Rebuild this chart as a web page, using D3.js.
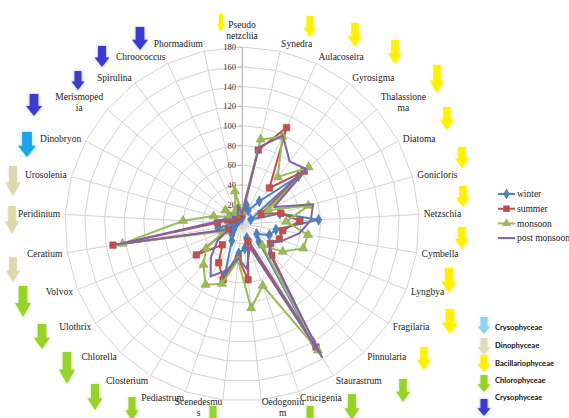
<!DOCTYPE html>
<html>
<head>
<meta charset="utf-8">
<script src="https://cdn.jsdelivr.net/npm/d3@7"></script>
<style>
  html, body { margin: 0; padding: 0; background: #ffffff; }
  svg { display: block; }
</style>
</head>
<body>
<svg id="chart" width="569" height="418"></svg>
<script>
// Phytoplankton genera (spokes), clockwise from the top; "\n" marks a wrapped label
const categories = ["Pseudo\nnetzchia", "Synedra", "Aulacoseira", "Gyrosigma", "Thalassione\nma",
  "Diatoma", "Gonicloris", "Netzschia", "Cymbella", "Lyngbya", "Fragilaria", "Pinnularia",
  "Staurastrum", "Crucigenia", "Oedogoniu\nm", "Scenedesmu\ns", "Pediastrum", "Closterium",
  "Chlorella", "Ulothrix", "Volvox", "Ceratium", "Peridinium", "Urosolenia", "Dinobryon",
  "Merismoped\nia", "Spirulina", "Chroococcus", "Phormadium"];

// Seasonal counts per genus
const winter  = [6, 20, 15, 29, 75, 10, 40, 78, 35, 30, 18, 25, 140, 15, 25, 30, 55, 20, 15, 10, 8, 25, 10, 8, 5, 8, 5, 6, 8];
const summer  = [10, 77, 108, 46, 83, 22, 41, 59, 42, 41, 35, 44, 146, 19, 57, 35, 60, 46, 29, 56, 15, 133, 25, 15, 10, 12, 9, 8, 11];
const monsoon = [12, 88, 98, 60, 89, 30, 70, 45, 68, 67, 50, 30, 150, 66, 86, 37, 64, 72, 57, 44, 20, 123, 60, 30, 15, 22, 12, 15, 34];
const postMonsoon = [10, 80, 99, 80, 86, 37, 75, 70, 59, 45, 35, 40, 158, 25, 46, 35, 50, 62, 46, 30, 15, 128, 30, 18, 10, 12, 8, 10, 20];

const seriesNames = ["winter", "summer", "monsoon", "post monsoon"];
const axisTicks = [0, 20, 40, 60, 80, 100, 120, 140, 160, 180];

// Algal classes (legend order) and the class of each genus
const classNames = ["Crysophyceae", "Dinophyceae", "Bacillariophyceae", "Chlorophyceae", "Crysophyceae"];
const classOf = [2, 2, 2, 2, 2, 2, 2, 2, 2, 2, 2, 2, 3, 3, 3, 3, 3, 3, 3, 3, 3, 1, 1, 1, 0, 4, 4, 4, 4];

// ---- styling and layout ----
const seriesColors = ["#4F81BD", "#C0504D", "#9BBB59", "#8064A2"];
const seriesMarkers = ["diamond", "square", "triangle", null];
const classColors = ["#1AA3E8", "#DDD8AE", "#FFF200", "#97D22C", "#3B3BCF"];
const legendClassColors = ["#8FD3EC", "#E0DBB8", "#FFF200", "#97D22C", "#3B3BCF"];
// hand-placed class arrows beside each label: [centre x, top y, width, height]
const arrowLayout = [
  [221, 14, 8, 18], [310, 16, 13, 21], [355, 23, 14, 24], [395, 40, 14, 24], [437, 65, 14, 28],
  [447, 107, 14, 23], [462, 147, 14, 21], [463, 186, 14, 21], [462, 227, 14, 22], [449, 268, 15, 25],
  [450, 309, 16, 25], [424, 347, 14, 23], [403, 379, 14, 23], [352, 394, 15, 26], [310, 406, 13, 22],
  [213, 406, 13, 22], [132, 397, 13, 24], [95, 384, 15, 26], [67, 352, 16, 32], [42, 324, 16, 25],
  [23, 286, 16, 31], [13, 257, 14, 25], [12, 206, 14, 28], [13, 166, 15, 30], [27, 132, 18, 25],
  [34, 94, 16, 22], [78, 71, 13, 19], [102, 46, 15, 21], [140, 27, 16, 23]
];

const svg = d3.select("#chart");
const W = 569, H = 418;
svg.append("rect").attr("width", W).attr("height", H).attr("fill", "#ffffff");

const cx = 242, cy = 224, R = 177;
const n = categories.length;
const angle = d3.scaleLinear().domain([0, n]).range([0, 2 * Math.PI]);
const radius = d3.scaleLinear().domain([0, 180]).range([0, R]);
const serif = "'Liberation Serif', 'DejaVu Serif', serif";

const plot = svg.append("g").attr("transform", `translate(${cx},${cy})`);

// ring gridlines (polygons) and spokes
const ring = d3.lineRadial()
  .angle((d, i) => angle(i))
  .curve(d3.curveLinearClosed);
plot.append("g").selectAll("path")
  .data(axisTicks.filter(t => t > 0))
  .join("path")
  .attr("d", t => ring.radius(() => radius(t))(categories))
  .attr("fill", "none")
  .attr("stroke", "#d4d4d4")
  .attr("stroke-width", 1);

plot.append("g").selectAll("line")
  .data(categories)
  .join("line")
  .attr("x1", 0).attr("y1", 0)
  .attr("x2", (d, i) => radius(180) * Math.sin(angle(i)))
  .attr("y2", (d, i) => -radius(180) * Math.cos(angle(i)))
  .attr("stroke", "#d4d4d4")
  .attr("stroke-width", 1);

// value axis along the top spoke
const yAxisScale = d3.scaleLinear().domain([0, 180]).range([0, -R]);
const axisG = plot.append("g")
  .call(d3.axisLeft(yAxisScale).tickValues(axisTicks).tickSize(4).tickPadding(2));
axisG.select(".domain").attr("stroke", "#bdbdbd");
axisG.selectAll(".tick line").attr("stroke", "#bdbdbd");
axisG.selectAll(".tick text")
  .attr("font-family", serif).attr("font-size", 8.5).attr("fill", "#333");

// seasonal series
const seriesData = [winter, summer, monsoon, postMonsoon];
const line = d3.lineRadial()
  .angle((d, i) => angle(i))
  .radius(d => radius(d))
  .curve(d3.curveLinearClosed);

const symbolFor = {
  diamond: d3.symbol().type(d3.symbolDiamond).size(34),
  square: d3.symbol().type(d3.symbolSquare).size(42),
  triangle: d3.symbol().type(d3.symbolTriangle).size(36)
};

seriesData.forEach((vals, s) => {
  const g = plot.append("g");
  g.append("path")
    .attr("d", line(vals))
    .attr("fill", "none")
    .attr("stroke", seriesColors[s])
    .attr("stroke-width", 2)
    .attr("stroke-linejoin", "round");
  if (seriesMarkers[s]) {
    g.selectAll("path.m")
      .data(vals)
      .join("path")
      .attr("class", "m")
      .attr("d", symbolFor[seriesMarkers[s]]())
      .attr("transform", (d, i) => `translate(${radius(d) * Math.sin(angle(i))},${-radius(d) * Math.cos(angle(i))})`)
      .attr("fill", seriesColors[s])
      .attr("stroke", d3.color(seriesColors[s]).darker(0.3))
      .attr("stroke-width", 0.6);
  }
});

// category labels around the outside
const labelR = R + 5;
const lineH = 11;
const labelG = svg.append("g")
  .attr("font-family", serif).attr("font-size", 9.5).attr("fill", "#222");
categories.forEach((c, i) => {
  const a = angle(i), s = Math.sin(a), co = Math.cos(a);
  const lines = c.split("\n");
  const h = lines.length * lineH;
  const px = cx + labelR * s, py = cy - labelR * co;
  const t = labelG.append("text").attr("text-anchor", "middle");
  lines.forEach(ln => t.append("tspan").text(ln));
  let w = 0;
  t.selectAll("tspan").each(function () { w = Math.max(w, this.getComputedTextLength()); });
  let left;
  if (Math.abs(s) < 0.08) left = px - w / 2;
  else if (s > 0) left = px;
  else left = px - w;
  // upper labels sit above their spoke end, lower ones hug the outer ring
  const boxCy = co > 0
    ? py - Math.pow(co, 3) * (h / 2 - 2.5 + (lines.length - 1) * 3.5)
    : py - co * h * 0.1;
  const firstBase = boxCy - h / 2 + lineH * 0.78;
  t.selectAll("tspan")
    .attr("x", left + w / 2)
    .attr("y", (d, k) => firstBase + k * lineH);
});

// class arrows
const defs = svg.append("defs");
const glow = defs.append("filter").attr("id", "soft").attr("x", "-50%").attr("y", "-50%").attr("width", "200%").attr("height", "200%");
glow.append("feGaussianBlur").attr("in", "SourceGraphic").attr("stdDeviation", 1.6).attr("result", "b");
glow.append("feComponentTransfer").attr("in", "b").attr("result", "bb")
  .append("feFuncA").attr("type", "linear").attr("slope", 0.45);
const mg = glow.append("feMerge");
mg.append("feMergeNode").attr("in", "bb");
mg.append("feMergeNode").attr("in", "SourceGraphic");

function arrowPath(x, top, w, h) {
  const sw = w * 0.27, hy = top + h * 0.55;
  return `M${x - sw},${top}L${x + sw},${top}L${x + sw},${hy}L${x + w / 2},${hy}L${x},${top + h}L${x - w / 2},${hy}L${x - sw},${hy}Z`;
}
svg.append("g").attr("filter", "url(#soft)")
  .selectAll("path")
  .data(arrowLayout)
  .join("path")
  .attr("d", d => arrowPath(d[0], d[1], d[2], d[3]))
  .attr("fill", (d, i) => classColors[classOf[i]]);

// series legend
const leg = svg.append("g").attr("transform", "translate(498,194)")
  .attr("font-family", serif).attr("font-size", 9.5).attr("fill", "#222");
seriesNames.forEach((name, s) => {
  const row = leg.append("g").attr("transform", `translate(0,${s * 14.7})`);
  row.append("line").attr("x1", 0).attr("x2", 17).attr("y1", 0).attr("y2", 0)
    .attr("stroke", seriesColors[s]).attr("stroke-width", 2);
  if (seriesMarkers[s]) {
    row.append("path").attr("d", symbolFor[seriesMarkers[s]]())
      .attr("transform", "translate(8.5,0)").attr("fill", seriesColors[s]);
  }
  row.append("text").attr("x", 19).attr("y", 3.3).text(name);
});

// class legend
const cleg = svg.append("g").attr("font-family", "Lato, 'Liberation Sans', sans-serif")
  .attr("font-size", 7.6).attr("font-weight", "bold").attr("fill", "#111");
const classRows = [[317, 327], [338, 345], [355, 363], [375, 380], [399, 397]];
classNames.forEach((name, k) => {
  const [top, ty] = classRows[k];
  cleg.append("path").attr("d", arrowPath(484, top, 13, 17))
    .attr("fill", legendClassColors[k]).attr("filter", "url(#soft)");
  cleg.append("text").attr("x", 495).attr("y", ty + 2.6).text(name);
});
</script>
</body>
</html>
